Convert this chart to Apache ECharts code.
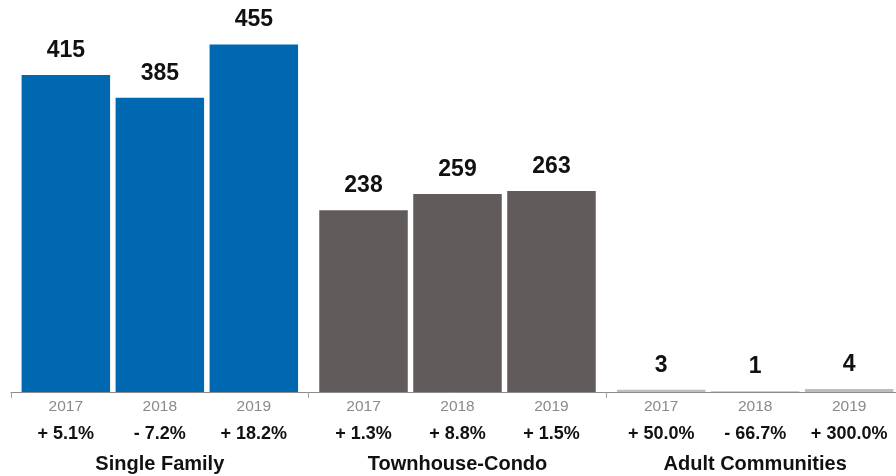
<!DOCTYPE html>
<html>
<head>
<meta charset="utf-8">
<script src="https://cdn.jsdelivr.net/npm/echarts@6/dist/echarts.min.js"></script>
<style>
    html, body { margin: 0; padding: 0; background: #fff; }
    #bars { width: 896px; height: 476px; }
</style>
</head>
<body>
<div id="bars"></div>
<script>
    // categories
    const groups = ['Single Family', 'Townhouse-Condo', 'Adult Communities'];
    const years = ['2017', '2018', '2019'];
    // sales per year, one value per group
    const sales2017 = [415, 238, 3];
    const sales2018 = [385, 259, 1];
    const sales2019 = [455, 263, 4];
    // change vs previous year
    const change2017 = ['+ 5.1%', '+ 1.3%', '+ 50.0%'];
    const change2018 = ['- 7.2%', '+ 8.8%', '- 66.7%'];
    const change2019 = ['+ 18.2%', '+ 1.5%', '+ 300.0%'];

    const groupColors = ['#0067b1', '#615b5b', '#bdbdbd'];
    const font = '"Liberation Sans", Arial, Helvetica, sans-serif';

    const yearSales = [sales2017, sales2018, sales2019];
    const yearChange = [change2017, change2018, change2019];

    let series = [];
    years.forEach((yr, i) => {
        // the bars, with year + change below them
        series.push({
            type: 'bar',
            stack: 'y' + yr,
            barWidth: 88.5,
            barGap: '6.2%',
            data: yearSales[i].map((v, g) => ({ value: v, itemStyle: { color: groupColors[g] } })),
            label: {
                show: true,
                position: 'bottom',
                distance: 4,
                fontFamily: font,
                formatter: p => '{y|' + yr + '}\n{p|' + yearChange[i][p.dataIndex] + '}',
                rich: {
                    y: { fontSize: 15.5, color: '#8a8a8a', lineHeight: 22, fontFamily: font },
                    p: { fontSize: 18, fontWeight: 'bold', color: '#111', lineHeight: 32, fontFamily: font }
                }
            }
        });
        // empty stacked piece to hold the value on top
        series.push({
            type: 'bar',
            stack: 'y' + yr,
            data: yearSales[i].map(() => 0),
            itemStyle: { color: 'transparent' },
            label: {
                show: true,
                position: 'top',
                distance: 13,
                fontFamily: font,
                fontSize: 23,
                fontWeight: 'bold',
                color: '#111',
                formatter: p => String(yearSales[i][p.dataIndex])
            }
        });
    });

    let myChart = echarts.init(document.getElementById('bars'));
    myChart.setOption({
        animation: false,
        grid: { left: 11, width: 893, top: 10, bottom: 84, outerBoundsMode: 'none' },
        xAxis: {
            type: 'category',
            data: groups,
            axisLine: { lineStyle: { color: '#8c8c8c', width: 1 } },
            axisTick: { show: true, length: 6, lineStyle: { color: '#a0a0a0' } },
            axisLabel: {
                margin: 62,
                fontFamily: font,
                fontSize: 20,
                fontWeight: 'bold',
                color: '#111'
            }
        },
        yAxis: {
            type: 'value',
            min: 0,
            max: 500,
            show: false
        },
        series: series
    });
</script>
</body>
</html>
